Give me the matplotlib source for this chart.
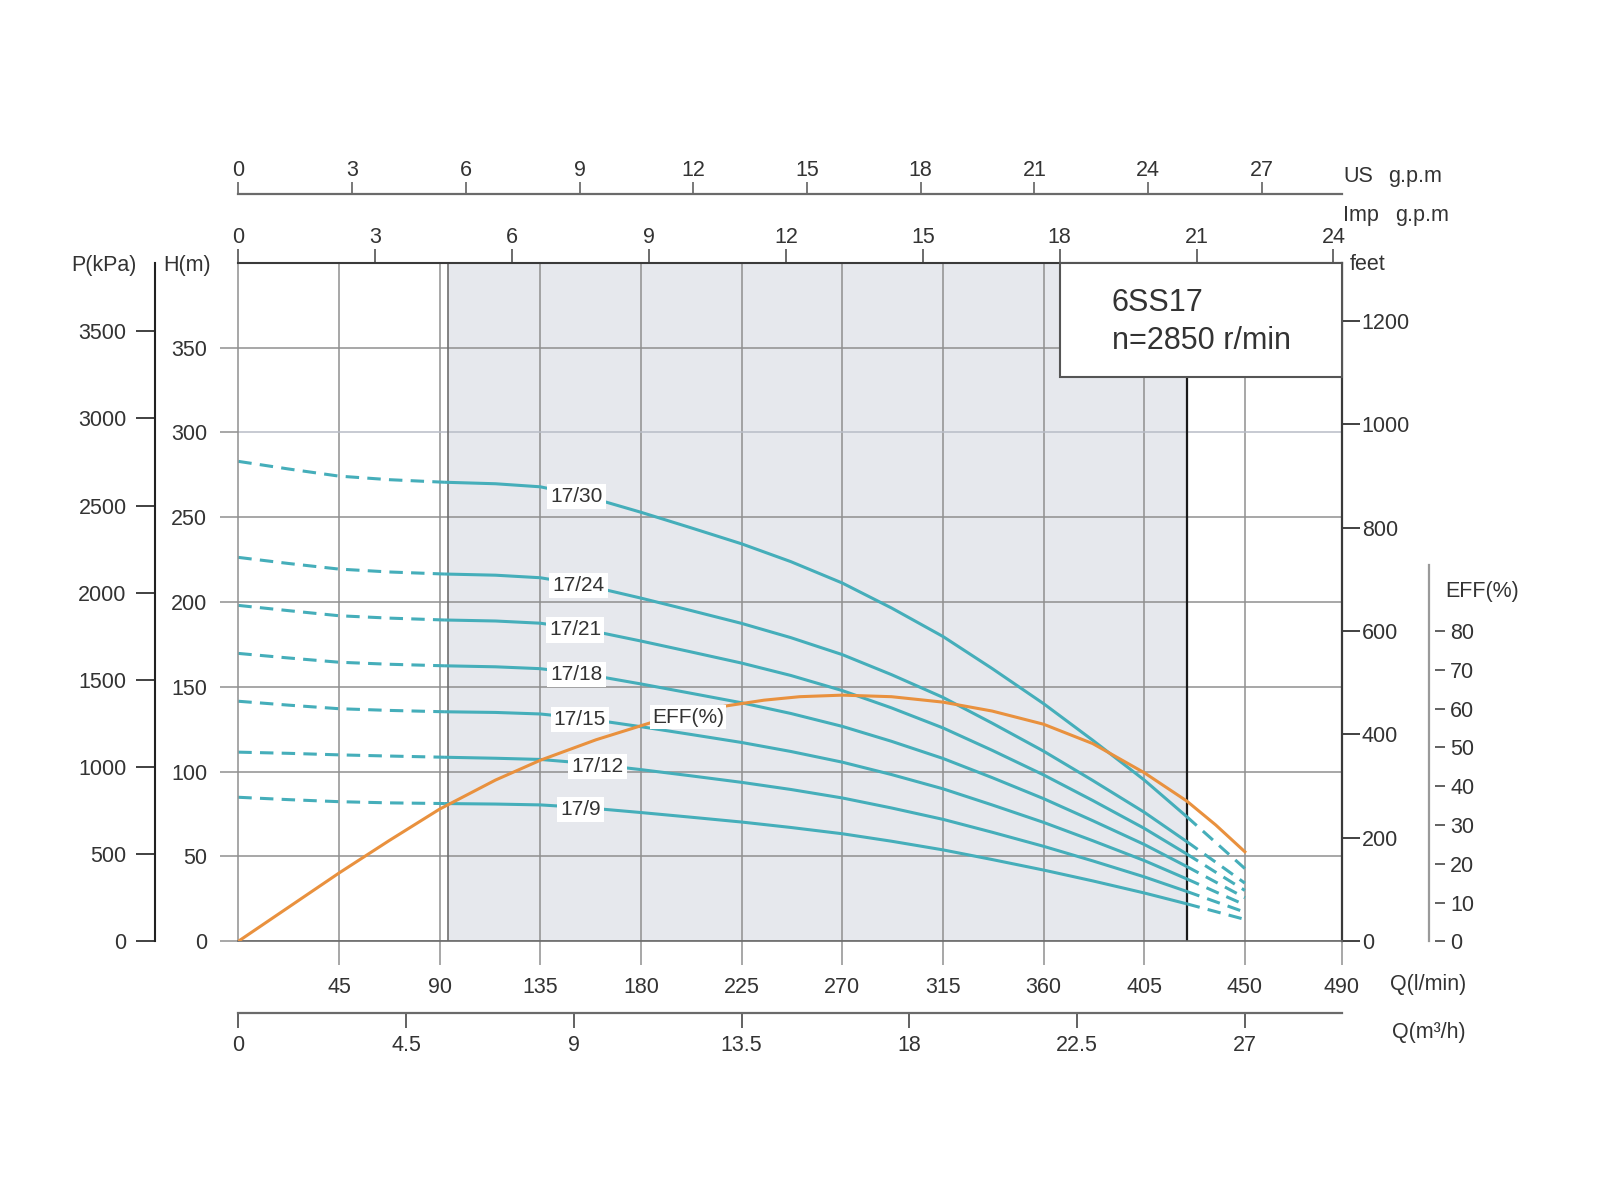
import numpy as np
import matplotlib
matplotlib.use('Agg')
import matplotlib.pyplot as plt
from matplotlib.patches import Rectangle

plt.rcParams['font.family'] = ['Liberation Sans', 'DejaVu Sans']

# ---------------- data ----------------
q_lmin = [0, 22.5, 45, 67.5, 92, 115, 135, 155, 180, 202, 225, 247, 270,
          292, 315, 337, 360, 382, 405, 424, 437, 450]
h_17_30 = [282.9, 278.4, 274.2, 272.1, 270.6, 269.7, 267.9, 262.5, 252.9, 243.9, 234.3,
           223.8, 211.2, 196.5, 179.7, 160.8, 140.1, 118.5, 95.1, 73.5, 58.2, 42.9]
h_17_24 = [226.3, 222.7, 219.4, 217.7, 216.5, 215.8, 214.3, 210.0, 202.3, 195.1, 187.4,
           179.0, 169.0, 157.2, 143.8, 128.6, 112.1, 94.8, 76.1, 58.8, 46.6, 34.3]
h_17_21 = [198.0, 194.9, 191.9, 190.5, 189.4, 188.8, 187.5, 183.8, 177.0, 170.7, 164.0,
           156.7, 147.8, 137.6, 125.8, 112.6, 98.1, 83.0, 66.6, 51.5, 40.7, 30.0]
h_17_18 = [169.7, 167.0, 164.5, 163.3, 162.4, 161.8, 160.7, 157.5, 151.7, 146.3, 140.6,
           134.3, 126.7, 117.9, 107.8, 96.5, 84.1, 71.1, 57.1, 44.1, 34.9, 25.7]
h_17_15 = [141.5, 139.2, 137.1, 136.1, 135.3, 134.9, 134.0, 131.3, 126.5, 122.0, 117.2,
           111.9, 105.6, 98.3, 89.9, 80.4, 70.1, 59.3, 47.6, 36.8, 29.1, 21.5]
h_17_12 = [111.5, 110.8, 109.9, 109.2, 108.5, 107.9, 107.2, 105.0, 101.2, 97.6, 93.7,
           89.5, 84.5, 78.6, 71.9, 64.3, 56.0, 47.4, 38.0, 29.4, 23.3, 17.2]
h_17_9 = [84.9, 83.5, 82.3, 81.6, 81.2, 80.9, 80.4, 78.8, 75.9, 73.2, 70.3,
          67.1, 63.4, 59.0, 53.9, 48.2, 42.0, 35.6, 28.5, 22.1, 17.5, 12.9]
models = ['17/30', '17/24', '17/21', '17/18', '17/15', '17/12', '17/9']
heads = [h_17_30, h_17_24, h_17_21, h_17_18, h_17_15, h_17_12, h_17_9]

q_eff = [0, 22.5, 45, 67.5, 90, 115, 135, 160, 185, 202, 219, 235, 251, 270, 292,
         315, 337, 360, 382, 405, 424, 437, 450]
eff_pct = [0, 8.8, 17.6, 26.0, 34.1, 41.6, 46.7, 52.0, 56.5, 59.0, 60.8, 62.2, 63.1,
           63.5, 63.1, 61.7, 59.4, 56.0, 51.0, 43.5, 36.2, 30.0, 23.1]

op_lo, op_hi = 93.7, 424.0        # recommended operating range (shaded)
solid_lo, solid_hi = 92.0, 424.0  # solid part of the head curves

q_ticks = [45, 90, 135, 180, 225, 270, 315, 360, 405, 450]
q_end_label = '490'
m3h_ticks = [0, 4.5, 9, 13.5, 18, 22.5, 27]
m3h_labels = ['0', '4.5', '9', '13.5', '18', '22.5', '27']
imp_ticks = [0, 3, 6, 9, 12, 15, 18, 21, 24]
us_ticks = [0, 3, 6, 9, 12, 15, 18, 21, 24, 27]
h_ticks = [0, 50, 100, 150, 200, 250, 300, 350]
p_ticks = [0, 500, 1000, 1500, 2000, 2500, 3000, 3500]
ft_ticks = [0, 200, 400, 600, 800, 1000, 1200]
eff_ticks = [0, 10, 20, 30, 40, 50, 60, 70, 80]

# unit conversions as drawn on the chart
LMIN_PER_IMP = 20.4
LMIN_PER_US = 16.95
LMIN_PER_M3H = 1000 / 60
KPA_PER_M = 9.735
FT_PER_M = 3.281
M_PER_EFF = 2.285

# ---------------- style / layout ----------------
TEAL = '#45AEBA'
ORANGE = '#E9913E'
GRID = '#8f8f8f'
TXT = '#333333'
FS = 15.5

W, HP = 1600, 1200
L, R, B, T = 238.3, 1341.7, 941.3, 262.7
QMAX = 493.3
HMAX = 400
PT = 0.72  # points per pixel at dpi 100

fig = plt.figure(figsize=(16, 12), dpi=100)
fig.patch.set_facecolor('white')
ax = fig.add_axes([L / W, 1 - B / HP, (R - L) / W, (B - T) / HP])
ax.set_xlim(0, QMAX)
ax.set_ylim(0, HMAX)
ax.set_axisbelow(True)

# grid + ticks of main axes
ax.set_xticks(q_ticks + [QMAX])
ax.set_xticklabels([str(v) for v in q_ticks] + [q_end_label])
ax.set_yticks(h_ticks)
ax.set_yticklabels([str(v) for v in h_ticks])
ax.grid(True, color=GRID, lw=1.1)
ax.tick_params(axis='x', direction='out', length=24 * PT, width=1.1, color=GRID,
               pad=8.5, labelsize=FS, labelcolor=TXT)
ax.tick_params(axis='y', direction='out', length=18 * PT, width=1.1, color=GRID,
               pad=9.4, labelsize=FS, labelcolor=TXT)
ax.xaxis.get_major_ticks()[-1].tick1line.set_color('#333333')
ax.yaxis.get_gridlines()[6].set_color('#b8bcc6')

for s, c, w in [('left', GRID, 1.1), ('bottom', '#6a6a6a', 1.2),
                ('top', '#3a3a3a', 1.5), ('right', '#3a3a3a', 1.6)]:
    ax.spines[s].set_color(c)
    ax.spines[s].set_linewidth(w)

# shaded operating range
ax.axvspan(op_lo, op_hi, color='#e6e8ed', lw=0, zorder=0.1)
ax.axvline(op_lo, color='#6e6e6e', lw=1.2, zorder=1.5)
ax.axvline(op_hi, color='#1a1a1a', lw=1.6, zorder=1.5)

# head curves
q = np.array(q_lmin)
dash = (0, (4.4, 2.7))
for name, h in zip(models, heads):
    h = np.array(h)
    m_mid = (q >= solid_lo) & (q <= solid_hi)
    m_lo = q <= solid_lo
    m_hi = q >= solid_hi
    ax.plot(q[m_mid], h[m_mid], color=TEAL, lw=2.2, zorder=2,
            solid_capstyle='butt', solid_joinstyle='round')
    ax.plot(q[m_lo], h[m_lo], color=TEAL, lw=2.2, ls=dash, zorder=2)
    ax.plot(q[m_hi], h[m_hi], color=TEAL, lw=2.2, ls=dash, zorder=2)

label_q = {'17/30': 139.5, '17/24': 140.5, '17/21': 139, '17/18': 139.5,
           '17/15': 141, '17/12': 149, '17/9': 144}
for name, h in zip(models, heads):
    ql = label_q[name]
    yl = np.interp(ql + 13, q, h) - 0.8
    ax.text(ql, yl, name, ha='left', va='center', fontsize=15, color=TXT, zorder=4,
            bbox=dict(boxstyle='square,pad=0.15', fc='white', ec='none'))

# model info box
x0 = 367.3
y0 = 332.4
ax.add_patch(Rectangle((x0, y0), QMAX - x0, HMAX - y0, fc='white', ec='#555555',
                       lw=1.5, zorder=5, clip_on=False))
ax.text(390.6, 376.3, '6SS17', fontsize=22, ha='left', va='center', color=TXT, zorder=6)
ax.text(390.6, 354.0, 'n=2850 r/min', fontsize=22, ha='left', va='center', color=TXT, zorder=6)

# efficiency curve on twin axes
ax_e = ax.twinx()
ax_e.set_ylim(0, HMAX / M_PER_EFF)
ax_e.axis('off')
ax_e.plot(q_eff, eff_pct, color=ORANGE, lw=2.2, zorder=3, solid_joinstyle='round')
ax_e.text(185, np.interp(201, q_eff, eff_pct) - 1.0, 'EFF(%)', ha='left', va='center',
          fontsize=15, color=TXT, zorder=4,
          bbox=dict(boxstyle='square,pad=0.1', fc='white', ec='none'))

# ---------------- secondary axes ----------------
# Imp g.p.m (top)
sec_imp = ax.secondary_xaxis('top', functions=(lambda v: v / LMIN_PER_IMP,
                                               lambda g: g * LMIN_PER_IMP))
sec_imp.set_xticks(imp_ticks)
sec_imp.set_xticklabels([str(v) for v in imp_ticks])
sec_imp.tick_params(direction='out', length=14 * PT, width=1.1, color='#444444',
                    pad=0.5, labelsize=FS, labelcolor=TXT)
for s in sec_imp.spines.values():
    s.set_visible(False)

# US g.p.m (separate line above)
loc_us = (B - 194.0) / (B - T)
sec_us = ax.secondary_xaxis(loc_us, functions=(lambda v: v / LMIN_PER_US,
                                               lambda g: g * LMIN_PER_US))
sec_us.set_xticks(us_ticks)
sec_us.set_xticklabels([str(v) for v in us_ticks])
sec_us.tick_params(direction='out', length=12 * PT, width=1.1, color='#555555',
                   pad=1.0, labelsize=FS, labelcolor=TXT)
for s in sec_us.spines.values():
    s.set_color('#6a6a6a')
    s.set_linewidth(1.6)

# m3/h (bottom line)
loc_m3 = -(1013.3 - B) / (B - T)
sec_m3 = ax.secondary_xaxis(loc_m3, functions=(lambda v: v / LMIN_PER_M3H,
                                               lambda m: m * LMIN_PER_M3H))
sec_m3.set_xticks(m3h_ticks)
sec_m3.set_xticklabels(m3h_labels)
sec_m3.tick_params(direction='out', length=15 * PT, width=1.3, color='#555555',
                   pad=5, labelsize=FS, labelcolor=TXT)
for s in sec_m3.spines.values():
    s.set_color('#6a6a6a')
    s.set_linewidth(1.6)

# P (kPa) at left
loc_p = (155.0 - L) / (R - L)
sec_p = ax.secondary_yaxis(loc_p, functions=(lambda h: h * KPA_PER_M,
                                             lambda p: p / KPA_PER_M))
sec_p.set_yticks(p_ticks)
sec_p.set_yticklabels([str(v) for v in p_ticks])
sec_p.tick_params(direction='out', length=19 * PT, width=1.3, color='#333333',
                  pad=6.7, labelsize=FS, labelcolor=TXT)
for s in sec_p.spines.values():
    s.set_color('#222222')
    s.set_linewidth(1.5)

# feet at right
sec_ft = ax.secondary_yaxis('right', functions=(lambda h: h * FT_PER_M,
                                                lambda f: f / FT_PER_M))
sec_ft.set_yticks(ft_ticks)
sec_ft.set_yticklabels([str(v) for v in ft_ticks])
sec_ft.tick_params(direction='out', length=18 * PT, width=1.3, color='#333333',
                   pad=1.5, labelsize=FS, labelcolor=TXT)
for s in sec_ft.spines.values():
    s.set_visible(False)

# EFF axis: bar + detached tick dashes
eff_top = (B - 565.0) / 1.6965 / M_PER_EFF
loc_eline = (1428.5 - L) / (R - L)
sec_el = ax.secondary_yaxis(loc_eline, functions=(lambda h: h / M_PER_EFF,
                                                  lambda e: e * M_PER_EFF))
sec_el.set_yticks([])
sec_el.spines['left'].set_visible(False)
sec_el.spines['right'].set_color('#9a9a9a')
sec_el.spines['right'].set_linewidth(1.6)
sec_el.spines['right'].set_bounds(0, eff_top)

loc_et = (1435.0 - L) / (R - L)
sec_et = ax.secondary_yaxis(loc_et, functions=(lambda h: h / M_PER_EFF,
                                               lambda e: e * M_PER_EFF))
sec_et.set_yticks(eff_ticks)
sec_et.set_yticklabels([str(v) for v in eff_ticks])
sec_et.tick_params(direction='out', length=10 * PT, width=1.3, color='#555555',
                   pad=3.6, labelsize=FS, labelcolor=TXT)
for s in sec_et.spines.values():
    s.set_visible(False)

# ---------------- axis titles ----------------
def ftext(xp, yp, s, ha='left'):
    fig.text(xp / W, 1 - yp / HP, s, ha=ha, va='center', fontsize=FS, color=TXT)

ftext(103.5, 266, 'P(kPa)', ha='center')
ftext(187, 266, 'H(m)', ha='center')
ftext(1367.5, 265, 'feet', ha='center')
ftext(1343, 176.5, 'US')
ftext(1388, 176.5, 'g.p.m')
ftext(1343, 216, 'Imp')
ftext(1395, 216, 'g.p.m')
ftext(1390, 984.7, 'Q(l/min)')
ftext(1392, 1032.7, 'Q(m³/h)')
ftext(1482, 591.7, 'EFF(%)', ha='center')

fig.savefig('out.png', dpi=100, facecolor='white')
